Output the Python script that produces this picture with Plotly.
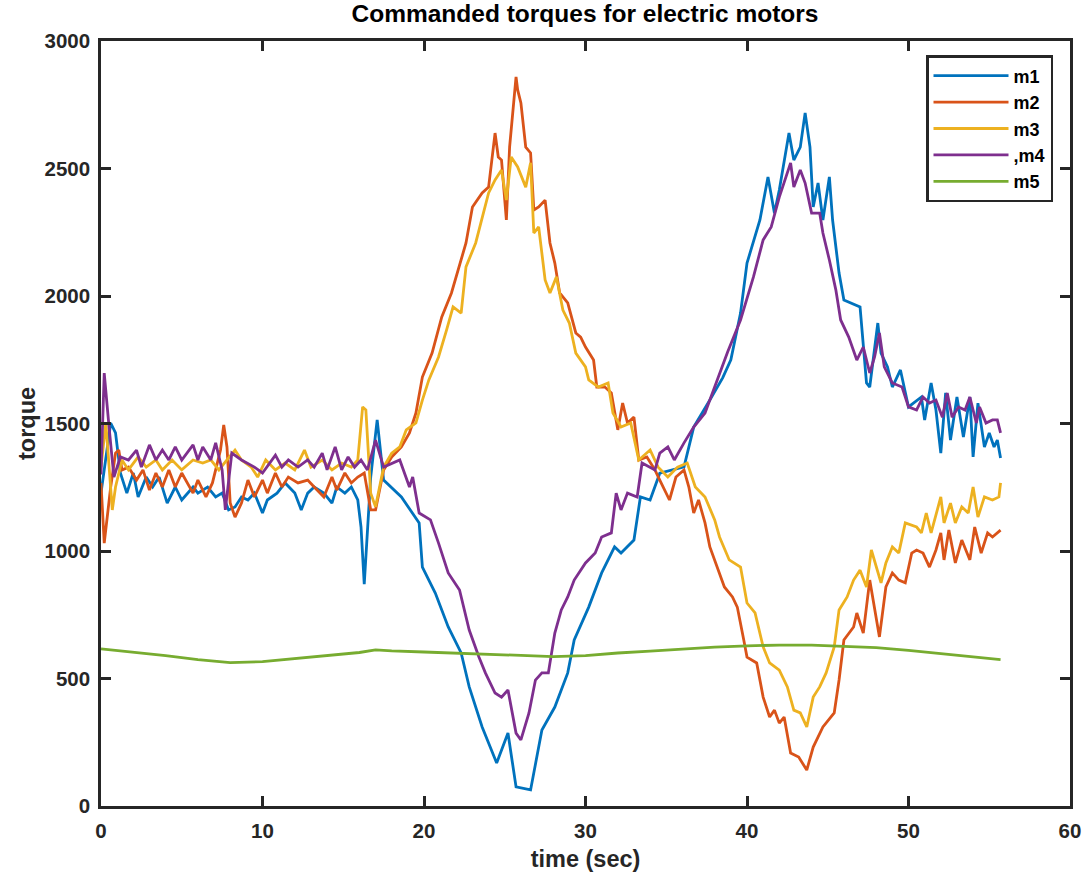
import plotly.graph_objects as go

# ---- data ----
t_m1 = [0,0.3,0.6,0.9,1.2,1.6,2.0,2.3,2.8,3.2,3.6,4.1,4.6,5.0,5.7,6.0,6.6,7.1,7.5,7.9,8.3,8.7,9.1,9.5,10.0,10.3,10.9,11.4,12.0,12.4,12.8,13.2,13.8,14.3,14.6,15.1,15.5,15.9,16.1,16.3,16.7,17.1,17.5,18.6,19.7,19.9,20.7,21.5,22.3,22.8,23.6,24.5,25.2,25.7,26.6,27.3,28.1,28.9,29.3,30.2,31.0,31.8,32.2,33.0,33.4,34.0,34.6,36.1,36.7,37.7,38.5,39.0,39.6,40.0,40.8,41.3,41.7,42.0,42.6,42.9,43.3,43.6,43.9,44.1,44.4,44.7,45.1,45.3,45.7,46.0,46.5,47.0,47.4,47.6,48.1,48.3,48.7,49.0,49.5,50.0,50.8,51.0,51.4,51.7,52.0,52.3,52.6,53.0,53.4,53.8,54.0,54.3,54.7,55.0,55.3,55.5,55.7]
m1 = [1227,1357,1502,1463,1306,1227,1306,1212,1290,1251,1290,1188,1251,1200,1251,1227,1251,1212,1227,1161,1173,1212,1200,1227,1149,1200,1227,1267,1227,1161,1227,1251,1227,1188,1251,1227,1251,1200,1094,870,1290,1514,1278,1212,1110,937,835,702,600,467,310,169,286,75,63,298,388,522,651,780,914,1016,992,1043,1212,1200,1305,1330,1486,1592,1680,1750,1933,2129,2298,2467,2325,2416,2639,2533,2584,2718,2584,2349,2443,2298,2467,2298,2090,1984,1970,1957,1659,1643,1894,1776,1722,1643,1710,1565,1604,1514,1659,1553,1384,1620,1435,1604,1447,1604,1369,1580,1408,1463,1408,1435,1365]

t_m2 = [0,0.2,0.6,0.9,1.1,1.3,1.7,2.2,2.6,3.0,3.4,3.8,4.2,4.6,5.0,5.7,6.0,6.5,6.9,7.4,7.6,7.8,8.0,8.3,8.7,9.1,9.5,10.0,10.3,10.8,11.2,11.6,12.2,12.8,13.2,13.8,14.3,14.6,15.1,15.5,15.9,16.3,16.7,17.0,17.5,18.0,18.6,19.1,19.5,19.9,20.5,21.1,21.7,22.3,22.6,23.0,23.6,24.0,24.2,24.4,24.6,24.8,25.1,25.3,25.7,25.8,26.0,26.3,26.6,26.8,27.1,27.5,27.8,28.1,28.4,28.9,29.4,29.7,30.0,30.5,30.7,31.2,31.6,32.0,32.3,32.6,33.0,33.3,33.8,34.3,34.6,35.2,35.6,36.1,36.4,36.7,37.0,37.4,37.7,38.2,38.6,39.1,39.4,39.8,40.0,40.6,41.0,41.4,41.7,42.0,42.3,42.7,43.2,43.7,44.1,44.7,45.4,45.7,46.0,46.6,46.8,47.2,47.6,48.2,48.6,49.0,49.4,49.8,50.2,50.5,50.9,51.3,51.7,52.0,52.2,52.5,52.9,53.3,53.8,54.1,54.5,54.9,55.2,55.7]
m2 = [1267,1031,1251,1384,1396,1318,1329,1278,1318,1239,1306,1251,1318,1251,1306,1227,1278,1212,1267,1396,1494,1408,1188,1133,1188,1278,1212,1278,1227,1306,1251,1290,1267,1278,1251,1212,1290,1239,1306,1267,1290,1306,1161,1161,1318,1369,1408,1463,1541,1682,1776,1918,2012,2141,2208,2349,2404,2427,2545,2639,2545,2533,2298,2584,2859,2808,2757,2584,2561,2337,2349,2376,2208,2129,2012,1973,1855,1839,1800,1749,1643,1643,1620,1475,1580,1502,1525,1357,1369,1318,1278,1200,1290,1318,1251,1149,1200,1110,1016,925,859,820,780,651,584,561,427,349,376,325,349,208,192,141,231,310,365,494,651,702,757,678,886,663,859,914,886,875,992,1004,992,937,1004,1071,965,1082,953,1043,965,1094,992,1071,1055,1082]

t_m3 = [0,0.3,0.7,0.9,1.3,1.7,2.3,2.8,3.4,3.8,4.4,5.0,5.7,6.3,6.8,7.3,7.8,8.3,8.7,9.3,9.7,10.2,10.8,11.4,12.0,12.6,13.0,13.7,14.3,14.9,15.5,15.9,16.2,16.4,16.7,17.0,17.5,18.0,18.5,18.9,19.5,19.9,20.3,20.9,21.4,21.8,22.3,22.6,23.2,23.6,24.0,24.4,24.8,25.1,25.4,25.8,26.3,26.6,26.8,27.1,27.5,27.8,28.2,28.6,29.0,29.4,30.0,30.2,30.8,31.4,31.7,32.2,32.8,33.3,34.0,34.5,35.1,35.7,36.3,36.8,37.4,38.0,38.3,38.9,39.6,40.0,40.5,41.0,41.4,42.0,42.5,42.9,43.3,43.7,44.1,44.5,44.9,45.4,45.7,46.2,46.6,47.0,47.4,47.7,48.0,48.3,48.6,49.0,49.4,49.8,50.5,50.8,51.1,51.4,52.0,52.2,52.6,52.9,53.3,53.7,54.0,54.3,54.7,55.2,55.6,55.7]
m3 = [1329,1502,1161,1251,1357,1318,1369,1329,1357,1318,1357,1318,1357,1345,1357,1318,1357,1396,1357,1329,1290,1357,1318,1345,1318,1396,1329,1357,1318,1345,1329,1357,1565,1553,1227,1173,1329,1384,1408,1475,1502,1592,1671,1761,1867,1957,1933,2114,2208,2310,2404,2455,2494,2376,2545,2506,2427,2522,2247,2271,2063,2012,2075,1945,1894,1776,1722,1671,1643,1659,1541,1486,1502,1357,1396,1329,1290,1329,1345,1251,1212,1122,1055,965,937,796,757,624,561,533,467,376,365,310,427,467,522,624,769,820,886,925,859,1004,937,875,953,1016,992,1110,1094,1071,1149,1071,1212,1110,1188,1110,1173,1149,1251,1133,1212,1200,1212,1267]

t_m4 = [0,0.2,0.5,0.8,1.2,1.7,2.2,2.5,3.0,3.4,3.8,4.2,4.6,5.0,5.7,6.0,6.3,6.8,7.1,7.5,7.7,8.1,8.7,9.5,10.0,10.8,11.2,11.6,12.2,12.8,13.2,13.7,14.0,14.5,14.9,15.3,15.7,16.1,16.5,17.0,17.5,18.5,19.1,19.3,19.7,20.4,20.9,21.5,22.2,22.8,23.4,23.8,24.4,24.8,25.2,25.7,26.0,26.5,26.9,27.3,27.7,28.1,28.5,28.9,29.3,30.0,30.6,31.0,31.6,31.9,32.2,32.6,33.2,33.5,34.3,34.6,35.1,35.5,36.1,36.7,37.4,38.0,38.8,39.6,40.4,41.0,41.5,42.0,42.7,42.9,43.3,43.6,44.0,44.5,44.7,45.1,45.5,45.8,46.3,46.8,47.2,47.6,47.9,48.2,48.5,49.0,49.6,50.0,50.5,50.9,51.3,51.7,52.1,52.4,52.7,53.1,53.5,53.8,54.2,54.4,54.8,55.2,55.5,55.7]
m4 = [1300,1698,1486,1290,1369,1357,1396,1329,1416,1357,1396,1357,1408,1357,1416,1357,1408,1357,1424,1318,1161,1384,1357,1329,1306,1376,1329,1357,1329,1357,1329,1384,1318,1408,1318,1369,1329,1357,1318,1435,1329,1357,1251,1290,1149,1122,1031,914,847,690,584,522,443,427,455,286,259,365,494,522,522,678,769,820,886,953,992,1055,1071,1227,1161,1227,1212,1345,1318,1384,1408,1357,1424,1486,1541,1643,1780,1906,2075,2220,2271,2388,2522,2427,2494,2443,2325,2325,2247,2141,2024,1906,1839,1749,1800,1698,1761,1855,1722,1659,1643,1565,1553,1604,1580,1592,1525,1620,1525,1565,1553,1604,1502,1565,1502,1514,1514,1463]

t_m5 = [0,2,4,6,8,10,12,14,16,17,18,20,22,24,26,28,30,32,34,36,38,40,42,44,46,48,50,52,54,55.7]
m5 = [616,603,590,574,562,566,578,590,602,612,608,604,600,596,592,586,590,600,607,615,623,628,631,631,627,621,610,598,585,574]

names = ["m1", "m2", "m3", ",m4", "m5"]
colors = ["#0072BD", "#D95319", "#EDB120", "#7E2F8E", "#77AC30"]
series = [(t_m1, m1), (t_m2, m2), (t_m3, m3), (t_m4, m4), (t_m5, m5)]

x_ticks = [0, 10, 20, 30, 40, 50, 60]
y_ticks = [0, 500, 1000, 1500, 2000, 2500, 3000]

for (tt, vv) in series:
    assert len(tt) == len(vv), (len(tt), len(vv))

fig = go.Figure()
for (tt, vv), nm, c in zip(series, names, colors):
    fig.add_trace(go.Scatter(x=tt, y=vv, mode="lines", name=nm,
                             line=dict(color=c, width=2.8)))

W, H = 1085, 879
L, R, T, B = 101, 15, 41, 73
plot_w = W - L - R
plot_h = H - T - B

font_main = "Arial, Liberation Sans, sans-serif"
axis_common = dict(
    showline=True, linewidth=2.5, linecolor="#262626", mirror="allticks",
    ticks="inside", ticklen=10, tickwidth=2.5, tickcolor="#262626",
    showgrid=False, zeroline=False, automargin=False,
    tickfont=dict(family=font_main, size=20.5, color="#262626", weight="bold"),
)

fig.update_layout(
    width=W, height=H,
    paper_bgcolor="white", plot_bgcolor="white",
    margin=dict(l=L, r=R, t=T, b=B),
    title=dict(text="<b>Commanded torques for electric motors</b>",
               x=585 / W, xanchor="center", xref="container",
               y=1 - 5 / H, yanchor="top", yref="container",
               pad=dict(t=0, b=0, l=0, r=0),
               font=dict(family=font_main, size=24.5, color="black")),
    xaxis=dict(range=[0, 60], tickvals=x_ticks, ticklabelstandoff=5,
               ticklabeloverflow="allow",
               title=dict(text="<b>time (sec)</b>", standoff=10,
                          font=dict(family=font_main, size=23.5, color="#262626")),
               **axis_common),
    yaxis=dict(range=[0, 3000], tickvals=y_ticks, ticklabelstandoff=4,
               ticklabeloverflow="allow",
               title=dict(text="<b>torque</b>", standoff=3,
                          font=dict(family=font_main, size=23.5, color="#262626")),
               **axis_common),
    legend=dict(x=(1053 - L) / plot_w, y=(H - B - 55) / plot_h,
                xanchor="right", yanchor="top",
                bgcolor="white", bordercolor="#262626", borderwidth=2.5,
                font=dict(family=font_main, size=18, color="black", weight="bold"),
                tracegroupgap=0, itemwidth=75),
    showlegend=True,
)

# remove the default 8px page margin so the figure fills the window exactly
fig.write_html("out.html",
               config={"displayModeBar": False},
               post_script="document.body.style.margin='0';document.body.style.overflow='hidden';")
